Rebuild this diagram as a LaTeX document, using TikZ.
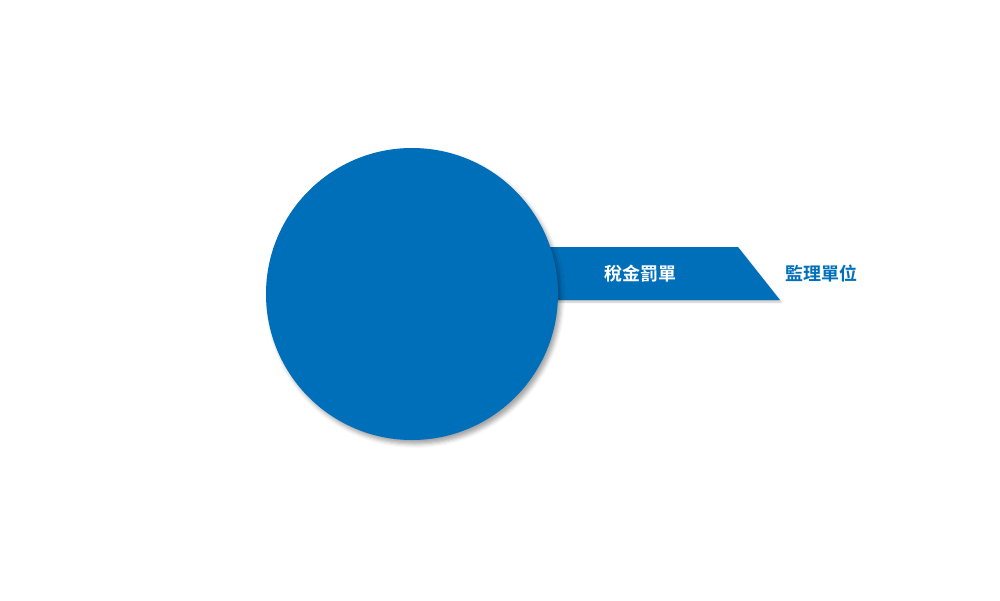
\documentclass[tikz,border=0pt]{standalone}
\usepackage{fontspec}
\newfontfamily\cjk{Noto Sans CJK TC}[BoldFont={* Bold}]
\usetikzlibrary{shadows.blur}
\definecolor{mainblue}{RGB}{0,111,185}
\tikzset{
  lbl/.style={font=\cjk\bfseries\fontsize{18}{20}\selectfont, inner sep=0pt},
}
\begin{document}
\begin{tikzpicture}[x=1pt,y=-1pt]
\useasboundingbox (0,0) rectangle (1000,600);
\fill[mainblue, blur shadow={shadow xshift=1pt, shadow yshift=-2pt, shadow blur radius=2pt, shadow opacity=25}]
  (480,247) coordinate (bl) -- (738,247) -- (780,300) -- (480,300) -- cycle;
\node[circle, fill=mainblue, minimum size=292pt, inner sep=0pt,
  blur shadow={shadow xshift=3pt, shadow yshift=-4pt, shadow blur radius=4pt, shadow opacity=35}] (c) at (412,294) {};
\node[lbl, text=white] (t1) at (640,274) {稅金罰單};
\node[lbl, text=mainblue] (t2) at (821,274) {監理單位};
\end{tikzpicture}
\end{document}
